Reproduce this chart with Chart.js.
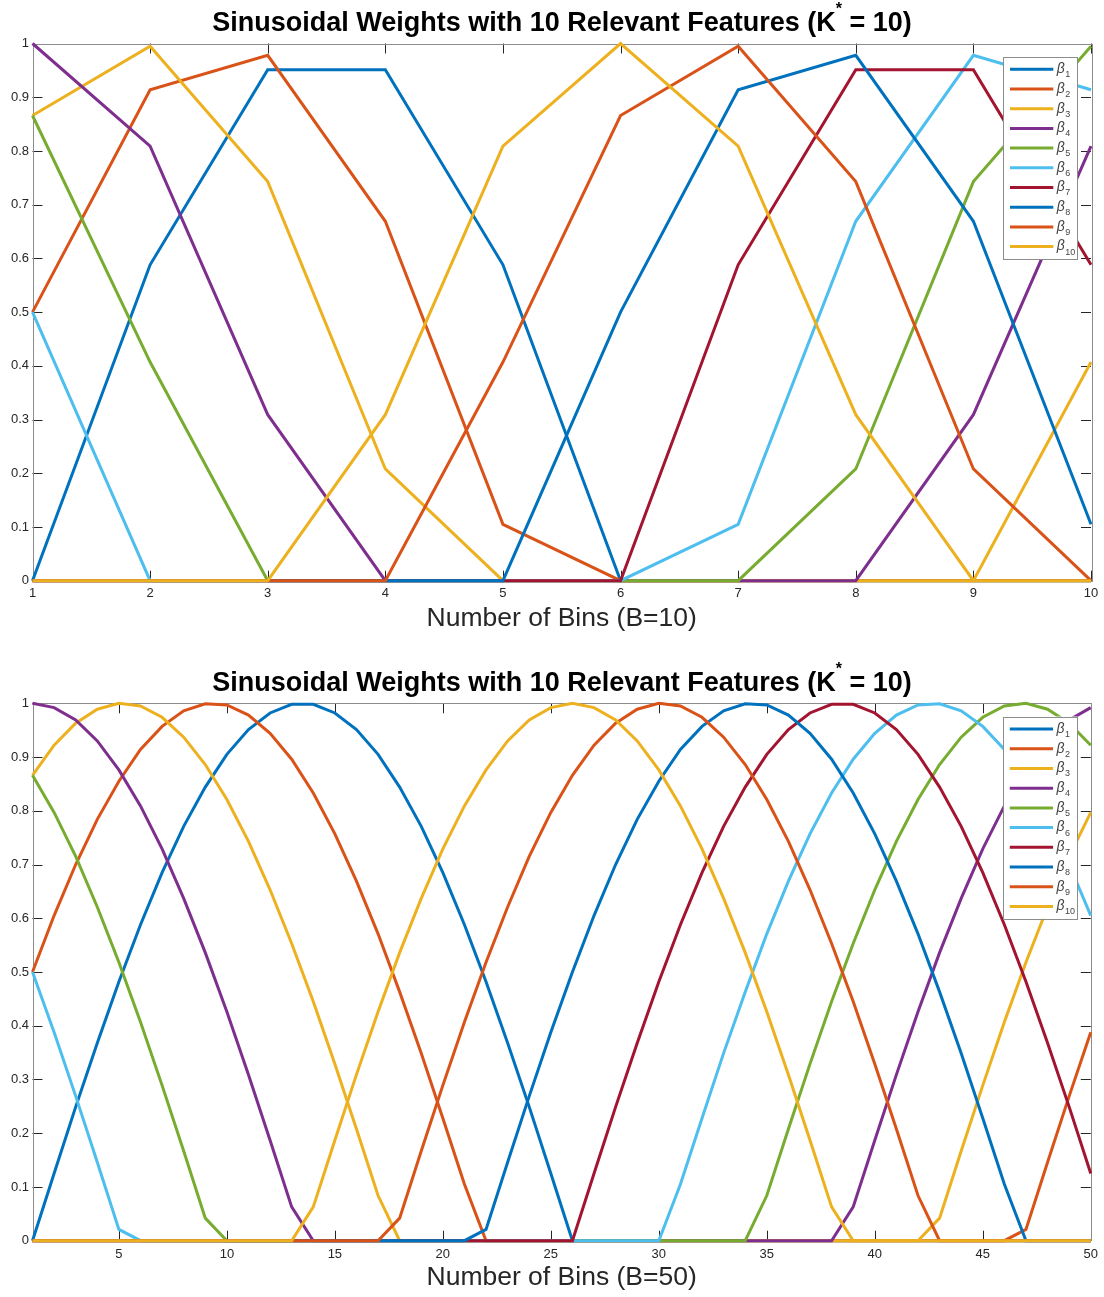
<!DOCTYPE html>
<html lang="en">
<head>
<meta charset="UTF-8">
<title>Sinusoidal Weights with 10 Relevant Features</title>
<script src="https://cdn.jsdelivr.net/npm/chart.js"></script>
<style>
  body { margin: 0; background: #fff; font-family: "Liberation Sans", Arial, Helvetica, sans-serif; }
  .panel { position: relative; width: 1104px; }
  .panel canvas { display: block; }
  .title {
    position: absolute; left: 33px; width: 1058px;
    text-align: center; font-weight: bold; font-size: 27px; line-height: 1;
    color: #000; white-space: nowrap;
  }
  .title .star { font-size: 16px; position: relative; top: -17px; }
</style>
</head>
<body>
<div class="panel" style="height:648px">
  <div class="title" style="top:8.5px">Sinusoidal Weights with 10 Relevant Features (K<span class="star">*</span> = 10)</div>
  <canvas id="chartB10" width="1104" height="648"></canvas>
</div>
<div class="panel" style="height:649px">
  <div class="title" style="top:20.5px">Sinusoidal Weights with 10 Relevant Features (K<span class="star">*</span> = 10)</div>
  <canvas id="chartB50" width="1104" height="649"></canvas>
</div>

<script>
// ---- data: top plot, 10 bins ----
const binsB10 = [1, 2, 3, 4, 5, 6, 7, 8, 9, 10];
const xTicksB10 = [1, 2, 3, 4, 5, 6, 7, 8, 9, 10];
const b10_beta1  = [0, 0.588, 0.951, 0.951, 0.588, 0, 0, 0, 0, 0];
const b10_beta2  = [0.5, 0.914, 0.978, 0.669, 0.105, 0, 0, 0, 0, 0];
const b10_beta3  = [0.866, 0.995, 0.743, 0.208, 0, 0, 0, 0, 0, 0.407];
const b10_beta4  = [1, 0.809, 0.309, 0, 0, 0, 0, 0, 0.309, 0.809];
const b10_beta5  = [0.866, 0.407, 0, 0, 0, 0, 0, 0.208, 0.743, 0.995];
const b10_beta6  = [0.5, 0, 0, 0, 0, 0, 0.105, 0.669, 0.978, 0.914];
const b10_beta7  = [0, 0, 0, 0, 0, 0, 0.588, 0.951, 0.951, 0.588];
const b10_beta8  = [0, 0, 0, 0, 0, 0.5, 0.914, 0.978, 0.669, 0.105];
const b10_beta9  = [0, 0, 0, 0, 0.407, 0.866, 0.995, 0.743, 0.208, 0];
const b10_beta10 = [0, 0, 0, 0.309, 0.809, 1, 0.809, 0.309, 0, 0];

// ---- data: bottom plot, 50 bins ----
const binsB50 = [1, 2, 3, 4, 5, 6, 7, 8, 9, 10, 11, 12, 13, 14, 15, 16, 17, 18, 19, 20,
  21, 22, 23, 24, 25, 26, 27, 28, 29, 30, 31, 32, 33, 34, 35, 36, 37, 38, 39, 40,
  41, 42, 43, 44, 45, 46, 47, 48, 49, 50];
const xTicksB50 = [5, 10, 15, 20, 25, 30, 35, 40, 45, 50];
const b50_beta1 = [0, 0.125, 0.249, 0.368, 0.482, 0.588, 0.685, 0.771, 0.844, 0.905,
  0.951, 0.982, 0.998, 0.998, 0.982, 0.951, 0.905, 0.844, 0.771, 0.685,
  0.588, 0.482, 0.368, 0.249, 0.125, 0, 0, 0, 0, 0,
  0, 0, 0, 0, 0, 0, 0, 0, 0, 0,
  0, 0, 0, 0, 0, 0, 0, 0, 0, 0];
const b50_beta2 = [0.5, 0.605, 0.7, 0.784, 0.855, 0.914, 0.957, 0.986, 0.999, 0.997,
  0.978, 0.944, 0.896, 0.833, 0.757, 0.669, 0.571, 0.463, 0.349, 0.228,
  0.105, 0, 0, 0, 0, 0, 0, 0, 0, 0,
  0, 0, 0, 0, 0, 0, 0, 0, 0, 0,
  0, 0, 0, 0, 0, 0, 0.021, 0.146, 0.269, 0.388];
const b50_beta3 = [0.866, 0.922, 0.963, 0.989, 1, 0.995, 0.974, 0.937, 0.886, 0.821,
  0.743, 0.653, 0.553, 0.445, 0.329, 0.208, 0.084, 0, 0, 0,
  0, 0, 0, 0, 0, 0, 0, 0, 0, 0,
  0, 0, 0, 0, 0, 0, 0, 0, 0, 0,
  0, 0, 0.042, 0.167, 0.289, 0.407, 0.518, 0.621, 0.715, 0.797];
const b50_beta4 = [1, 0.992, 0.969, 0.93, 0.876, 0.809, 0.729, 0.637, 0.536, 0.426,
  0.309, 0.187, 0.063, 0, 0, 0, 0, 0, 0, 0,
  0, 0, 0, 0, 0, 0, 0, 0, 0, 0,
  0, 0, 0, 0, 0, 0, 0, 0, 0.063, 0.187,
  0.309, 0.426, 0.536, 0.637, 0.729, 0.809, 0.876, 0.93, 0.969, 0.992];
const b50_beta5 = [0.866, 0.797, 0.715, 0.621, 0.518, 0.407, 0.289, 0.167, 0.042, 0,
  0, 0, 0, 0, 0, 0, 0, 0, 0, 0,
  0, 0, 0, 0, 0, 0, 0, 0, 0, 0,
  0, 0, 0, 0, 0.084, 0.208, 0.329, 0.445, 0.553, 0.653,
  0.743, 0.821, 0.886, 0.937, 0.974, 0.995, 1, 0.989, 0.963, 0.922];
const b50_beta6 = [0.5, 0.388, 0.269, 0.146, 0.021, 0, 0, 0, 0, 0,
  0, 0, 0, 0, 0, 0, 0, 0, 0, 0,
  0, 0, 0, 0, 0, 0, 0, 0, 0, 0,
  0.105, 0.228, 0.349, 0.463, 0.571, 0.669, 0.757, 0.833, 0.896, 0.944,
  0.978, 0.997, 0.999, 0.986, 0.957, 0.914, 0.855, 0.784, 0.7, 0.605];
const b50_beta7 = [0, 0, 0, 0, 0, 0, 0, 0, 0, 0,
  0, 0, 0, 0, 0, 0, 0, 0, 0, 0,
  0, 0, 0, 0, 0, 0, 0.125, 0.249, 0.368, 0.482,
  0.588, 0.685, 0.771, 0.844, 0.905, 0.951, 0.982, 0.998, 0.998, 0.982,
  0.951, 0.905, 0.844, 0.771, 0.685, 0.588, 0.482, 0.368, 0.249, 0.125];
const b50_beta8 = [0, 0, 0, 0, 0, 0, 0, 0, 0, 0,
  0, 0, 0, 0, 0, 0, 0, 0, 0, 0,
  0, 0.021, 0.146, 0.269, 0.388, 0.5, 0.605, 0.7, 0.784, 0.855,
  0.914, 0.957, 0.986, 0.999, 0.997, 0.978, 0.944, 0.896, 0.833, 0.757,
  0.669, 0.571, 0.463, 0.349, 0.228, 0.105, 0, 0, 0, 0];
const b50_beta9 = [0, 0, 0, 0, 0, 0, 0, 0, 0, 0,
  0, 0, 0, 0, 0, 0, 0, 0.042, 0.167, 0.289,
  0.407, 0.518, 0.621, 0.715, 0.797, 0.866, 0.922, 0.963, 0.989, 1,
  0.995, 0.974, 0.937, 0.886, 0.821, 0.743, 0.653, 0.553, 0.445, 0.329,
  0.208, 0.084, 0, 0, 0, 0, 0, 0, 0, 0];
const b50_beta10 = [0, 0, 0, 0, 0, 0, 0, 0, 0, 0,
  0, 0, 0, 0.063, 0.187, 0.309, 0.426, 0.536, 0.637, 0.729,
  0.809, 0.876, 0.93, 0.969, 0.992, 1, 0.992, 0.969, 0.93, 0.876,
  0.809, 0.729, 0.637, 0.536, 0.426, 0.309, 0.187, 0.063, 0, 0,
  0, 0, 0, 0, 0, 0, 0, 0, 0, 0];

const yTicks = [0, 0.1, 0.2, 0.3, 0.4, 0.5, 0.6, 0.7, 0.8, 0.9, 1];
const yTickLabels = ['0', '0.1', '0.2', '0.3', '0.4', '0.5', '0.6', '0.7', '0.8', '0.9', '1'];
const seriesNames = ['1', '2', '3', '4', '5', '6', '7', '8', '9', '10'];
const colors = ['#0072BD', '#D95319', '#EDB120', '#7E2F8E', '#77AC30', '#4DBEEE', '#A2142F',
  '#0072BD', '#D95319', '#EDB120'];

const FONT = '"Liberation Sans", Arial, Helvetica, sans-serif';
Chart.defaults.font.family = FONT;
Chart.defaults.color = '#262626';

// matlab style box + inward ticks
const boxPlugin = {
  id: 'box',
  beforeDatasetsDraw(chart) {
    const { ctx, chartArea: a, scales: { x, y } } = chart;
    ctx.save();
    ctx.lineWidth = 1;
    ctx.strokeStyle = '#262626';
    ctx.beginPath();
    x.ticks.forEach(t => {
      const px = Math.round(x.getPixelForValue(t.value)) + 0.5;
      ctx.moveTo(px, a.bottom); ctx.lineTo(px, a.bottom - 10);
      ctx.moveTo(px, a.top); ctx.lineTo(px, a.top + 10);
    });
    y.ticks.forEach(t => {
      const py = Math.round(y.getPixelForValue(t.value)) + 0.5;
      ctx.moveTo(a.left, py); ctx.lineTo(a.left + 10, py);
      ctx.moveTo(a.right, py); ctx.lineTo(a.right - 10, py);
    });
    ctx.stroke();
    ctx.strokeStyle = '#8c8c8c';
    ctx.strokeRect(Math.round(a.left) + 0.5, Math.round(a.top) + 0.5,
      Math.round(a.width), Math.round(a.height));
    ctx.restore();
  }
};

// legend box in the upper right corner, beta with subscript
const legendPlugin = {
  id: 'betaLegend',
  afterDatasetsDraw(chart) {
    const { ctx, chartArea: a } = chart;
    const left = a.right - 87.7, top = a.top + 13.2;
    ctx.save();
    ctx.fillStyle = '#fff';
    ctx.fillRect(left, top, 74.4, 202.3);
    ctx.strokeStyle = '#8c8c8c';
    ctx.lineWidth = 1;
    ctx.strokeRect(Math.round(left) + 0.5, Math.round(top) + 0.5, 74, 202);
    chart.data.datasets.forEach((ds, i) => {
      const yy = top + 12.6 + i * 19.7;
      ctx.strokeStyle = ds.borderColor;
      ctx.lineWidth = 3;
      ctx.beginPath();
      ctx.moveTo(left + 6.7, yy); ctx.lineTo(left + 50, yy);
      ctx.stroke();
      ctx.fillStyle = '#444';
      ctx.textBaseline = 'middle';
      ctx.font = 'italic 14px ' + FONT;
      ctx.fillText('\u03B2', left + 53.5, yy);
      const w = ctx.measureText('\u03B2').width;
      ctx.font = '9px ' + FONT;
      ctx.fillText(seriesNames[i], left + 53.5 + w + 0.5, yy + 5.5);
    });
    ctx.restore();
  }
};

function makeChart(id, bins, series, xTicks, opts) {
  const datasets = series.map((ys, i) => ({
    label: '\u03B2' + seriesNames[i],
    data: bins.map((b, j) => ({ x: b, y: ys[j] })),
    borderColor: colors[i],
    backgroundColor: colors[i],
    borderWidth: 3,
    pointRadius: 0,
    tension: 0,
    fill: false,
    clip: false,
    order: 10 - i
  }));
  return new Chart(document.getElementById(id), {
    type: 'line',
    data: { datasets },
    options: {
      responsive: false,
      animation: false,
      layout: { padding: { top: opts.top, right: 13, left: 0, bottom: 0 } },
      plugins: { legend: { display: false }, tooltip: { enabled: false } },
      scales: {
        x: {
          type: 'linear',
          min: bins[0],
          max: bins[bins.length - 1],
          grid: { display: false, drawTicks: false },
          border: { display: false },
          afterBuildTicks: s => { s.ticks = xTicks.map(v => ({ value: v })); },
          afterFit: s => { s.height = opts.xHeight; },
          ticks: { font: { size: 13 }, padding: opts.tickPad, maxRotation: 0, autoSkip: false },
          title: {
            display: true,
            text: opts.xTitle,
            font: { size: 26.5 },
            color: '#262626',
            padding: { top: 0, bottom: opts.titlePad }
          }
        },
        y: {
          min: 0,
          max: 1,
          grid: { display: false, drawTicks: false },
          border: { display: false },
          afterBuildTicks: s => { s.ticks = yTicks.map(v => ({ value: v })); },
          afterFit: s => { s.width = 32.5; },
          ticks: {
            font: { size: 13 },
            padding: 3.5,
            autoSkip: false,
            callback: (v, i) => yTickLabels[i]
          }
        }
      }
    },
    plugins: [boxPlugin, legendPlugin]
  });
}

makeChart('chartB10', binsB10,
  [b10_beta1, b10_beta2, b10_beta3, b10_beta4, b10_beta5, b10_beta6, b10_beta7, b10_beta8, b10_beta9, b10_beta10],
  xTicksB10,
  { top: 43.5, xHeight: 67.3, tickPad: 4.5, titlePad: 13, xTitle: 'Number of Bins (B=10)' });

makeChart('chartB50', binsB50,
  [b50_beta1, b50_beta2, b50_beta3, b50_beta4, b50_beta5, b50_beta6, b50_beta7, b50_beta8, b50_beta9, b50_beta10],
  xTicksB50,
  { top: 55.3, xHeight: 56.3, tickPad: 6, titlePad: 3, xTitle: 'Number of Bins (B=50)' });
</script>
</body>
</html>
